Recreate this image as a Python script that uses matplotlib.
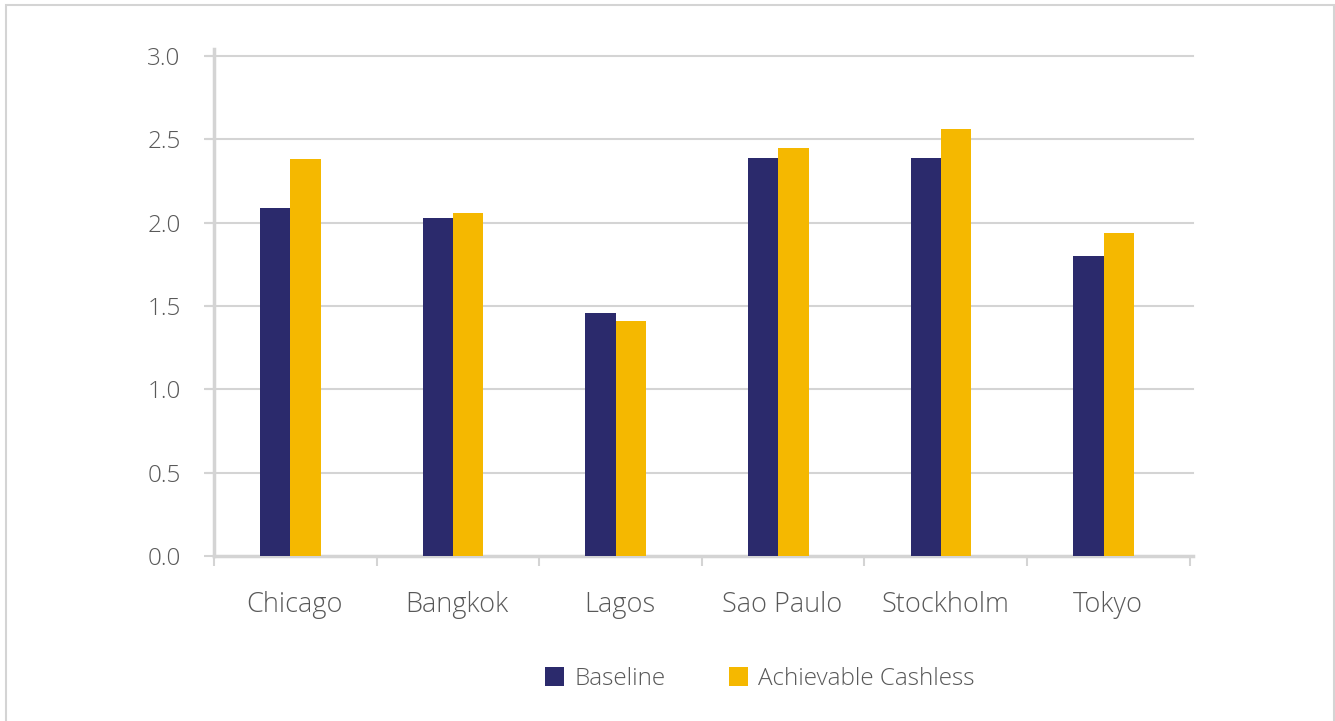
import numpy as np
import matplotlib.pyplot as plt
from matplotlib.patches import Rectangle

cities = ['Chicago', 'Bangkok', 'Lagos', 'Sao Paulo', 'Stockholm', 'Tokyo']
baseline = [2.09, 2.03, 1.46, 2.39, 2.39, 1.80]
cashless = [2.38, 2.06, 1.41, 2.45, 2.56, 1.94]
yticks = [0.0, 0.5, 1.0, 1.5, 2.0, 2.5, 3.0]

navy = '#2b2a6c'
gold = '#f5b800'
txt = '#595959'
line = '#d4d4d4'

plt.rcParams['font.family'] = ['Open Sans', 'DejaVu Sans']
plt.rcParams['font.weight'] = 'light'

fig = plt.figure(figsize=(13.35, 7.21), dpi=100)
ax = fig.add_axes([214/1335, 1-556/721, (1193-214)/1335, 507/721])

# outer frame
fig.patches.append(Rectangle((6/1335, -0.01), 1328/1335, 1-5/721+0.01,
                             transform=fig.transFigure, fill=False,
                             edgecolor=line, linewidth=1.5))

x = np.arange(len(cities))
w = 0.187
ax.bar(x - 0.03 - w/2, baseline, w, color=navy, label='Baseline', zorder=3)
ax.bar(x - 0.03 + w/2, cashless, w, color=gold, label='Achievable Cashless', zorder=3)

ax.set_xlim(-0.5, 5.52)
ax.set_ylim(0, 3.042)
ax.set_yticks(yticks)
ax.set_yticklabels(['%.1f' % v for v in yticks])
for v in yticks[1:]:
    ax.axhline(v, xmin=-0.007, xmax=1, color=line, linewidth=1.5, zorder=1, clip_on=False)

ax.set_xticks(x - 0.005)
ax.set_xticklabels(cities)
ax.set_xticks(np.arange(0, 7) - 0.5, minor=True)
ax.tick_params(axis='x', which='major', length=0, pad=25, labelsize=19.5, labelcolor=txt)
ax.tick_params(axis='x', which='minor', length=7, width=1.5, color=line, direction='out')
ax.tick_params(axis='y', length=7, width=1.5, color=line, pad=17, labelsize=17.5, labelcolor=txt)

for s in ['top', 'right']:
    ax.spines[s].set_visible(False)
for s in ['left', 'bottom']:
    ax.spines[s].set_color(line)
    ax.spines[s].set_linewidth(2.5)

leg = fig.legend(loc='center', bbox_to_anchor=(0.569, 1-679/721), ncol=2, frameon=False,
                 fontsize=17.5, handlelength=0.8, handleheight=0.8, columnspacing=2.6,
                 handletextpad=0.4)
for t in leg.get_texts():
    t.set_color(txt)

fig.savefig('out.png', dpi=100)
